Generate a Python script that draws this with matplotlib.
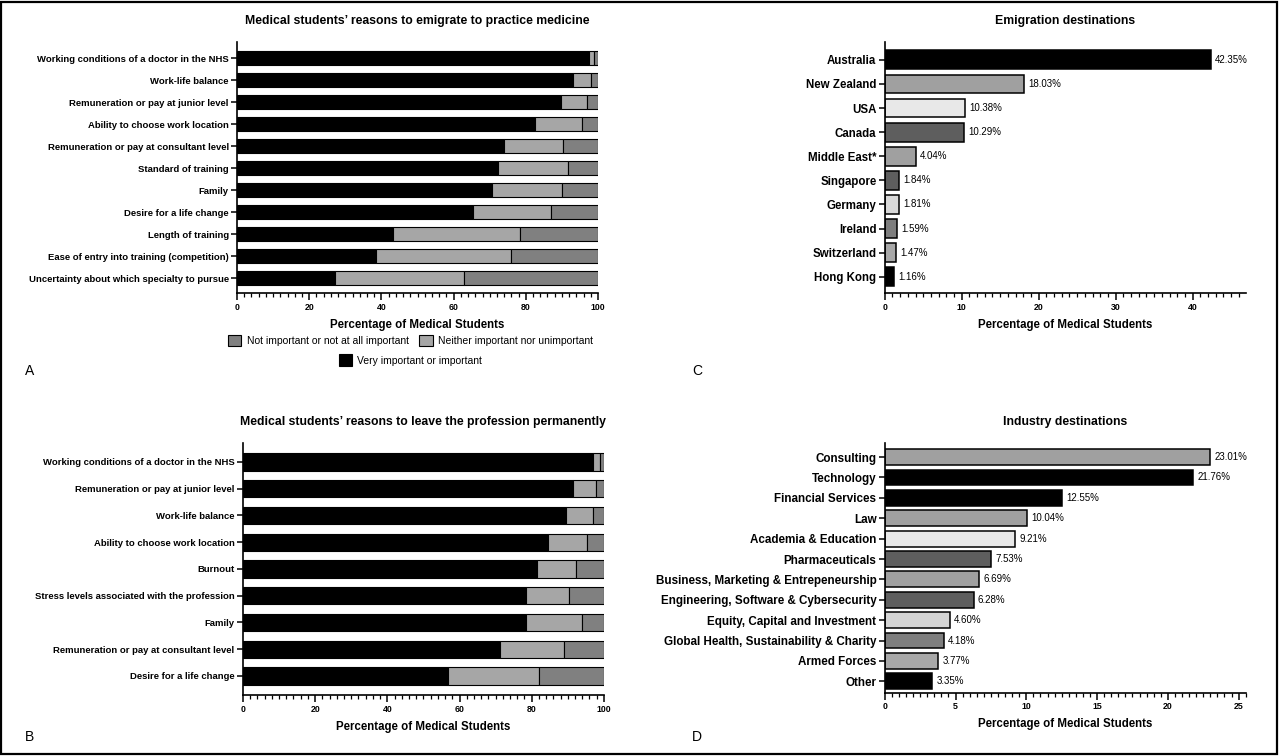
import numpy as np
import matplotlib.pyplot as plt
from matplotlib.patches import Patch, Rectangle
from matplotlib.ticker import MultipleLocator

plt.rcParams['font.family'] = ['Liberation Sans', 'DejaVu Sans']

# Panel A - reasons to emigrate (% very important, % neither; rest = not important)
emig_reasons = ['Working conditions of a doctor in the NHS', 'Work-life balance',
                'Remuneration or pay at junior level', 'Ability to choose work location',
                'Remuneration or pay at consultant level', 'Standard of training', 'Family',
                'Desire for a life change', 'Length of training',
                'Ease of entry into training (competition)',
                'Uncertainty about which specialty to pursue']
emig_important = [97.4, 93.1, 89.7, 82.5, 74.0, 72.2, 70.5, 65.5, 43.3, 38.4, 27.1]
emig_neither = [1.4, 5.0, 7.2, 13.2, 16.2, 19.4, 19.4, 21.5, 35.0, 37.6, 35.9]

# Panel B - reasons to leave the profession
leave_reasons = ['Working conditions of a doctor in the NHS', 'Remuneration or pay at junior level',
                 'Work-life balance', 'Ability to choose work location', 'Burnout',
                 'Stress levels associated with the profession', 'Family',
                 'Remuneration or pay at consultant level', 'Desire for a life change']
leave_important = [97.0, 91.5, 89.6, 84.4, 81.5, 78.3, 78.3, 71.3, 56.8]
leave_neither = [1.9, 6.2, 7.4, 11.0, 10.9, 12.1, 15.7, 17.7, 25.3]

# Panel C - emigration destinations
countries = ['Australia', 'New Zealand', 'USA', 'Canada', 'Middle East*', 'Singapore',
             'Germany', 'Ireland', 'Switzerland', 'Hong Kong']
country_pct = [42.35, 18.03, 10.38, 10.29, 4.04, 1.84, 1.81, 1.59, 1.47, 1.16]
country_col = ['#000000', '#a0a0a0', '#e8e8e8', '#5e5e5e', '#a0a0a0', '#5e5e5e',
               '#d8d8d8', '#7e7e7e', '#a8a8a8', '#000000']

# Panel D - industry destinations
industries = ['Consulting', 'Technology', 'Financial Services', 'Law', 'Academia & Education',
              'Pharmaceuticals', 'Business, Marketing & Entrepeneurship',
              'Engineering, Software & Cybersecurity', 'Equity, Capital and Investment',
              'Global Health, Sustainability & Charity', 'Armed Forces', 'Other']
industry_pct = [23.01, 21.76, 12.55, 10.04, 9.21, 7.53, 6.69, 6.28, 4.60, 4.18, 3.77, 3.35]
industry_col = ['#a0a0a0', '#000000', '#000000', '#a0a0a0', '#e8e8e8', '#5e5e5e',
                '#a0a0a0', '#5e5e5e', '#d4d4d4', '#7e7e7e', '#a8a8a8', '#000000']

C_IMP = '#000000'
C_NEI = '#a6a6a6'
C_NOT = '#808080'


def style_axis(ax, xmax, major, minor):
    for s in ['top', 'right']:
        ax.spines[s].set_visible(False)
    for s in ['left', 'bottom']:
        ax.spines[s].set_linewidth(1.2)
    ax.set_xlim(0, xmax)
    ax.xaxis.set_major_locator(MultipleLocator(major))
    ax.xaxis.set_minor_locator(MultipleLocator(minor))
    ax.tick_params(axis='x', which='major', length=5, width=1.1, labelsize=6.3, pad=2)
    ax.tick_params(axis='x', which='minor', length=3, width=0.9)
    ax.tick_params(axis='y', length=4, width=1.1, pad=2)
    for lab in ax.get_xticklabels():
        lab.set_fontweight('bold')
    ax.set_xlabel('Percentage of Medical Students', fontsize=8.3, fontweight='bold', labelpad=5)


def stacked(ax, labels, imp, nei, title, lo, hi):
    imp = np.array(imp)
    nei = np.array(nei)
    nott = 100 - imp - nei
    y = np.arange(len(labels))
    ax.barh(y, imp, height=0.65, color=C_IMP, edgecolor='black', linewidth=0.8)
    ax.barh(y, nei, left=imp, height=0.65, color=C_NEI, edgecolor='black', linewidth=0.8)
    ax.barh(y, nott, left=imp + nei, height=0.65, color=C_NOT, edgecolor='black', linewidth=0.8)
    ax.set_yticks(y)
    ax.set_yticklabels(labels, fontsize=6.8, fontweight='bold')
    ax.set_ylim(len(labels) - 1 + hi, -lo)
    style_axis(ax, 100, 20, 2)
    ax.set_title(title, fontsize=8.8, fontweight='bold', pad=13)


def simple(ax, labels, vals, cols, title, xmax, major, minor, lo, hi, lsize):
    y = np.arange(len(labels))
    ax.barh(y, vals, height=0.78, color=cols, edgecolor='black', linewidth=1.1)
    for yi, v in zip(y, vals):
        ax.text(v + 0.012 * xmax, yi, f'{v:.2f}%', va='center', ha='left', fontsize=7)
    ax.set_yticks(y)
    ax.set_yticklabels(labels, fontsize=lsize, fontweight='bold')
    ax.set_ylim(len(labels) - 1 + hi, -lo)
    style_axis(ax, xmax, major, minor)
    ax.set_title(title, fontsize=8.8, fontweight='bold', pad=13)


fig = plt.figure(figsize=(12.8, 7.56), dpi=100)

axA = fig.add_axes([0.1852, 0.6124, 0.282, 0.332])
stacked(axA, emig_reasons, emig_important, emig_neither,
        'Medical students\u2019 reasons to emigrate to practice medicine', 0.73, 0.68)

axB = fig.add_axes([0.1898, 0.0807, 0.282, 0.333])
stacked(axB, leave_reasons, leave_important, leave_neither,
        'Medical students\u2019 reasons to leave the profession permanently', 0.7, 0.71)

axC = fig.add_axes([0.6912, 0.612, 0.282, 0.3328])
simple(axC, countries, country_pct, country_col, 'Emigration destinations',
       46.9, 10, 1, 0.75, 0.69, 8.3)

axD = fig.add_axes([0.6912, 0.0837, 0.282, 0.3303])
simple(axD, industries, industry_pct, industry_col, 'Industry destinations',
       25.5, 5, 0.5, 0.69, 0.56, 8.4)

# legend for panel A, two rows
h1 = [Patch(facecolor=C_NOT, edgecolor='black', linewidth=0.8, label='Not important or not at all important'),
      Patch(facecolor=C_NEI, edgecolor='black', linewidth=0.8, label='Neither important nor unimportant')]
h2 = [Patch(facecolor=C_IMP, edgecolor='black', linewidth=0.8, label='Very important or important')]
leg1 = axA.legend(handles=h1, ncol=2, loc='upper center', bbox_to_anchor=(0.48, -0.15),
                  frameon=False, fontsize=7.5, handlelength=1.3, handleheight=1.3,
                  handletextpad=0.5, columnspacing=1.0, borderaxespad=0)
axA.add_artist(leg1)
axA.legend(handles=h2, loc='upper center', bbox_to_anchor=(0.48, -0.228),
           frameon=False, fontsize=7.5, handlelength=1.3, handleheight=1.3,
           handletextpad=0.5, borderaxespad=0)

for letter, x, y in [('A', 30, 371), ('B', 30, 737), ('C', 697, 371), ('D', 697, 737)]:
    fig.text(x / 1280, 1 - y / 756, letter, fontsize=10, ha='center', va='center')

fig.patches.append(Rectangle((0.001, 0.002), 0.997, 0.996, transform=fig.transFigure,
                             fill=False, edgecolor='black', linewidth=1.6))

fig.savefig('out.png', dpi=100)
